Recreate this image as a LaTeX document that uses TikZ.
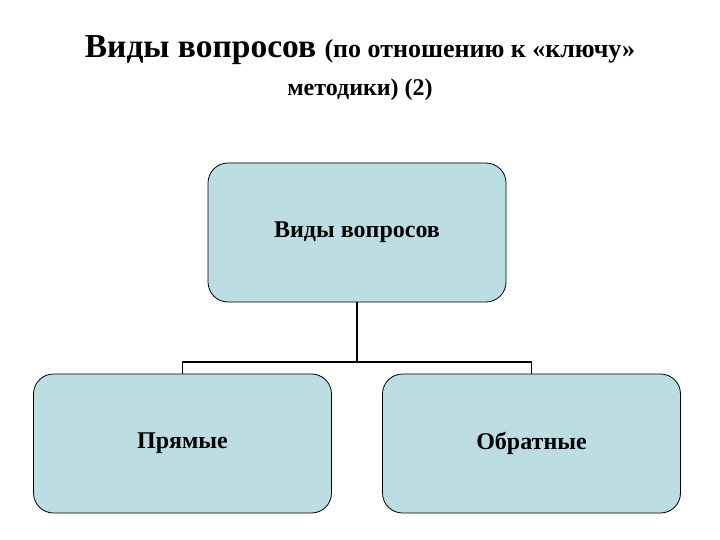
\documentclass[tikz,border=0pt]{standalone}
\usepackage{fontspec}
\setmainfont{Liberation Serif}
\definecolor{boxfill}{RGB}{188,222,226}
\begin{document}
\begin{tikzpicture}[x=1pt,y=-1pt,
  box/.style={draw=black,line width=0.8pt,fill=boxfill,rounded corners=20pt,
    minimum width=298pt,minimum height=139pt,inner sep=0pt,
    font=\fontsize{24}{28}\selectfont\bfseries},
  conn/.style={line width=1.6pt}]
\useasboundingbox (0,0) rectangle (720,540);
\node[anchor=base,inner sep=0pt] (t1) at (360,58)
  {\fontsize{33.5}{38}\selectfont\bfseries Виды вопросов \fontsize{26}{30}\selectfont(по отношению к «ключу»};
\node[anchor=base,inner sep=0pt] (t2) at (360,96)
  {\fontsize{24}{28}\selectfont\bfseries методики) (2)};
\node[box] (top) at (357,232.5) {\raisebox{-3pt}{Виды вопросов}};
\node[box] (l) at (182.5,443.5) {\raisebox{-3pt}{Прямые}};
\node[box] (r) at (531.5,443.5) {\raisebox{-3pt}{Обратные}};
\coordinate (j) at (357,362);
\draw[conn] (top.south) -- (j);
\draw[conn] (l.north) |- (j) -| (r.north);
\end{tikzpicture}
\end{document}
